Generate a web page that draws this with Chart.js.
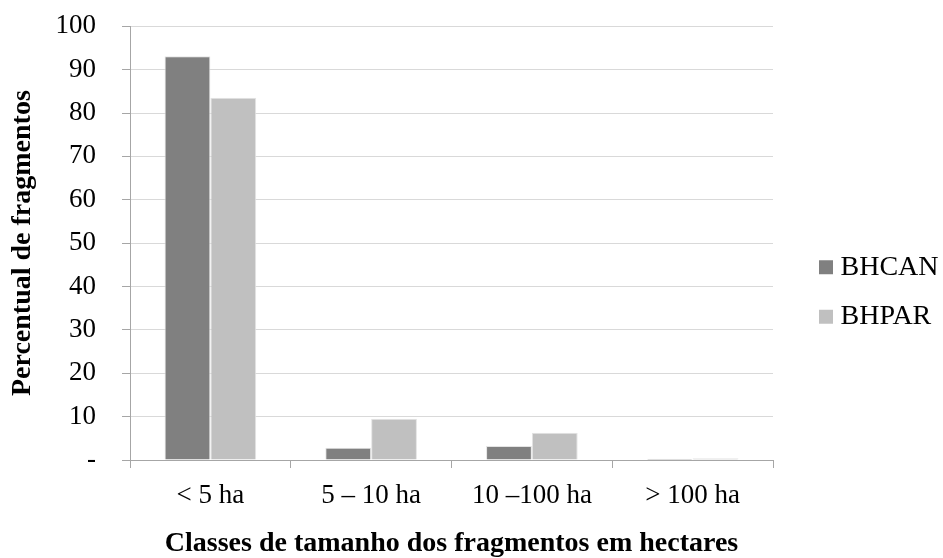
<!DOCTYPE html>
<html>
<head>
<meta charset="utf-8">
<script src="https://cdn.jsdelivr.net/npm/chart.js@4/dist/chart.umd.min.js"></script>
<style>
  html, body { margin: 0; padding: 0; background: #ffffff; }
  #wrap { width: 943px; height: 558px; }
</style>
</head>
<body>
<div id="wrap"><canvas id="c" width="943" height="558"></canvas></div>
<script>
// Fragment size classes (hectares)
const categories = ['< 5 ha', '5 \u2013 10 ha', '10 \u2013100 ha', '> 100 ha'];
// Share of fragments per class (%)
const bhcan = [93.1, 2.8, 3.2, 0.3];
const bhpar = [83.5, 9.5, 6.3, 0.4];
const yTicks = [0, 10, 20, 30, 40, 50, 60, 70, 80, 90, 100];

const serif = "'Liberation Serif', 'Times New Roman', serif";

new Chart(document.getElementById('c'), {
  type: 'bar',
  data: {
    labels: categories,
    datasets: [
      { label: 'BHCAN', data: bhcan, backgroundColor: '#808080', borderColor: '#e4e4e4', borderWidth: 1 },
      { label: 'BHPAR', data: bhpar, backgroundColor: '#c0c0c0', borderColor: '#e4e4e4', borderWidth: 1 }
    ]
  },
  options: {
    responsive: false,
    animation: false,
    layout: { padding: { top: 26, left: 0, right: 0, bottom: 0 } },
    plugins: {
      tooltip: { enabled: false },
      legend: {
        position: 'right',
        align: 'center',
        maxWidth: 139,
        labels: {
          usePointStyle: true,
          pointStyle: 'rect',
          boxWidth: 1,
          boxHeight: 14,
          padding: 21.5,
          color: '#000000',
          font: { family: serif, size: 28 },
          generateLabels: (chart) =>
            Chart.defaults.plugins.legend.labels.generateLabels(chart).map(item => ({
              ...item, lineWidth: 0, strokeStyle: 'rgba(0,0,0,0)', pointStyle: 'rect'
            }))
        }
      }
    },
    datasets: {
      bar: { categoryPercentage: 0.57, barPercentage: 1.0 }
    },
    scales: {
      x: {
        afterFit: (axis) => { axis.height = 98; },
        grid: {
          display: true,
          drawOnChartArea: false,
          drawTicks: true,
          tickLength: 8,
          color: '#a6a6a6',
          offset: true
        },
        border: { display: true, color: '#a6a6a6', width: 1 },
        ticks: {
          color: '#000000',
          padding: 12,
          maxRotation: 0,
          autoSkip: false,
          font: { family: serif, size: 27 }
        },
        title: {
          display: true,
          text: 'Classes de tamanho dos fragmentos em hectares',
          color: '#000000',
          padding: { top: 0, bottom: 0 },
          font: { family: serif, size: 28, weight: 'bold', lineHeight: 1.05 }
        }
      },
      y: {
        min: 0,
        max: 100,
        afterFit: (axis) => { axis.width = 130; },
        afterBuildTicks: (axis) => { axis.ticks = yTicks.map(v => ({ value: v })); },
        grid: {
          color: '#d9d9d9',
          tickColor: '#a6a6a6',
          drawTicks: true,
          tickLength: 8
        },
        border: { display: true, color: '#a6a6a6', width: 1 },
        ticks: {
          color: '#000000',
          padding: 26,
          // single-line labels; a tiny line height keeps them from padding the plot top
          font: { family: serif, size: 27, lineHeight: 0.02 },
          callback: (v) => (v === 0 ? '-' : String(v))
        },
        title: {
          display: true,
          text: 'Percentual de fragmentos',
          color: '#000000',
          padding: { top: 7, bottom: 0 },
          font: { family: serif, size: 28, weight: 'bold', lineHeight: 1.1 }
        }
      },
      // empty right-hand axis: keeps a gap between the plot and the legend
      gap: {
        type: 'linear',
        position: 'right',
        display: true,
        afterFit: (axis) => { axis.width = 31; },
        grid: { display: false, drawTicks: false },
        border: { display: false },
        ticks: { display: false }
      }
    }
  }
});
</script>
</body>
</html>
